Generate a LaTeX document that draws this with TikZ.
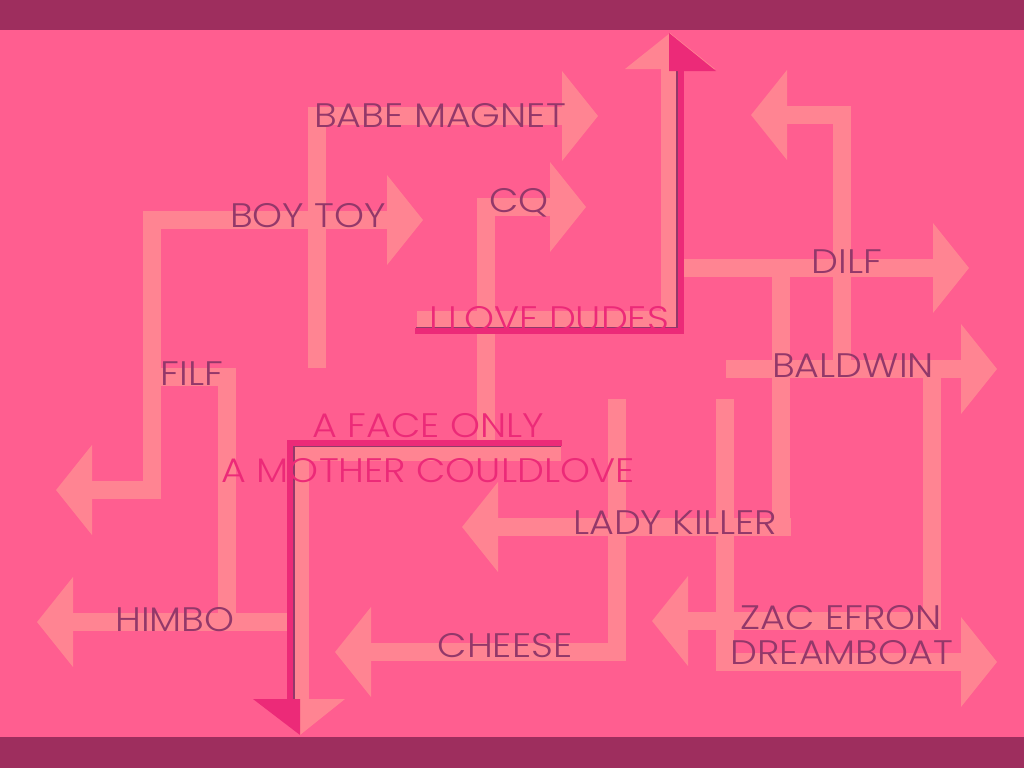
\documentclass[tikz,border=0pt]{standalone}
\usepackage{fontspec}
\usepackage{tikz}
\usetikzlibrary{arrows.meta}
\IfFontExistsTF{Poppins Light}{\newfontfamily\lblfont{Poppins Light}[FakeStretch=1.12]}{\newfontfamily\lblfont{Poppins}[FakeStretch=1.1]}
\definecolor{bg}{HTML}{FF5E90}
\definecolor{lite}{HTML}{FF8492}
\definecolor{bar}{HTML}{9E2E5E}
\definecolor{ink}{HTML}{93386A}
\definecolor{hot}{HTML}{EC2A78}

\begin{document}
\begin{tikzpicture}[
  x=1pt, y=-1pt,
  tip/.style={-{Triangle[length=36pt,width=88pt]}},
  both/.style={{Triangle[length=36pt,width=88pt]}-{Triangle[length=36pt,width=88pt]}},
  shaft/.style={draw=lite, line width=18pt, line join=miter, line cap=butt},
  hotline/.style={draw=hot, line width=6pt, line join=miter},
  shade/.style={draw=ink, line width=1.6pt, line join=miter},
  lbl/.style={font=\lblfont\fontsize{34}{34}\selectfont, text=ink, inner sep=0pt, anchor=base},
  hotlbl/.style={lbl, text=hot},
]
\useasboundingbox (0,0) rectangle (1024,768);
\fill[bg] (0,0) rectangle (1024,768);

% light arrows
\draw[shaft, tip] (317,368) -- (317,116) -- (598,116);
\draw[shaft, both] (56,490) -- (152,490) -- (152,220) -- (423,220);
\draw[shaft] (152,377) -- (227,377) -- (227,622);
\draw[shaft, tip] (287,622) -- (37,622);
\draw[shaft, tip] (486,456) -- (486,207) -- (586,207);
\draw[shaft, tip] (417,320) -- (670,320) -- (670,33);
\draw[shaft, tip] (683,268) -- (969,268);
\draw[shaft, tip] (842,369) -- (842,115) -- (751,115);
\draw[shaft] (781,268) -- (781,527);
\draw[shaft, tip] (791,527) -- (462,527);
\draw[shaft, tip] (726,369) -- (997,369);
\draw[shaft, tip] (932,369) -- (932,621) -- (652,621);
\draw[shaft, tip] (725,399) -- (725,662) -- (997,662);
\draw[shaft, tip] (617,399) -- (617,652) -- (335,652);
\draw[shaft, tip] (561,452) -- (300,452) -- (300,735);

% bright corner lines
\draw[shade] (416,328) -- (677,328) -- (677,71);
\draw[hotline] (415,331) -- (680.5,331) -- (680.5,71);
\fill[hot] (669,33) -- (716,71) -- (669,71) -- cycle;
\draw[shade] (561,446.5) -- (294,446.5) -- (294,699);
\draw[hotline] (562,443) -- (290,443) -- (290,699);
\fill[hot] (253,699) -- (300,699) -- (300,735) -- cycle;

% labels
\node[lbl] (babe) at (440,127) {BABE MAGNET};
\node[lbl] (boytoy) at (308,227) {BOY TOY};
\node[lbl] (cq) at (519,212) {CQ};
\node[hotlbl] (dudes) at (549,330) {I LOVE DUDES};
\node[lbl] (dilf) at (847,273) {DILF};
\node[lbl] (baldwin) at (853,377) {BALDWIN};
\node[lbl] (filf) at (192,385) {FILF};
\node[hotlbl] (face) at (428,437) {A FACE ONLY};
\node[hotlbl] (mother) at (428,482) {A MOTHER COULDLOVE};
\node[lbl] (lady) at (675,534) {LADY KILLER};
\node[lbl] (himbo) at (175,631) {HIMBO};
\node[lbl] (cheese) at (505,657) {CHEESE};
\node[lbl] (zac) at (841,629) {ZAC EFRON};
\node[lbl] (dream) at (842,664) {DREAMBOAT};

\fill[bar] (0,0) rectangle (1024,30);
\fill[bar] (0,737) rectangle (1024,768);
\end{tikzpicture}
\end{document}
